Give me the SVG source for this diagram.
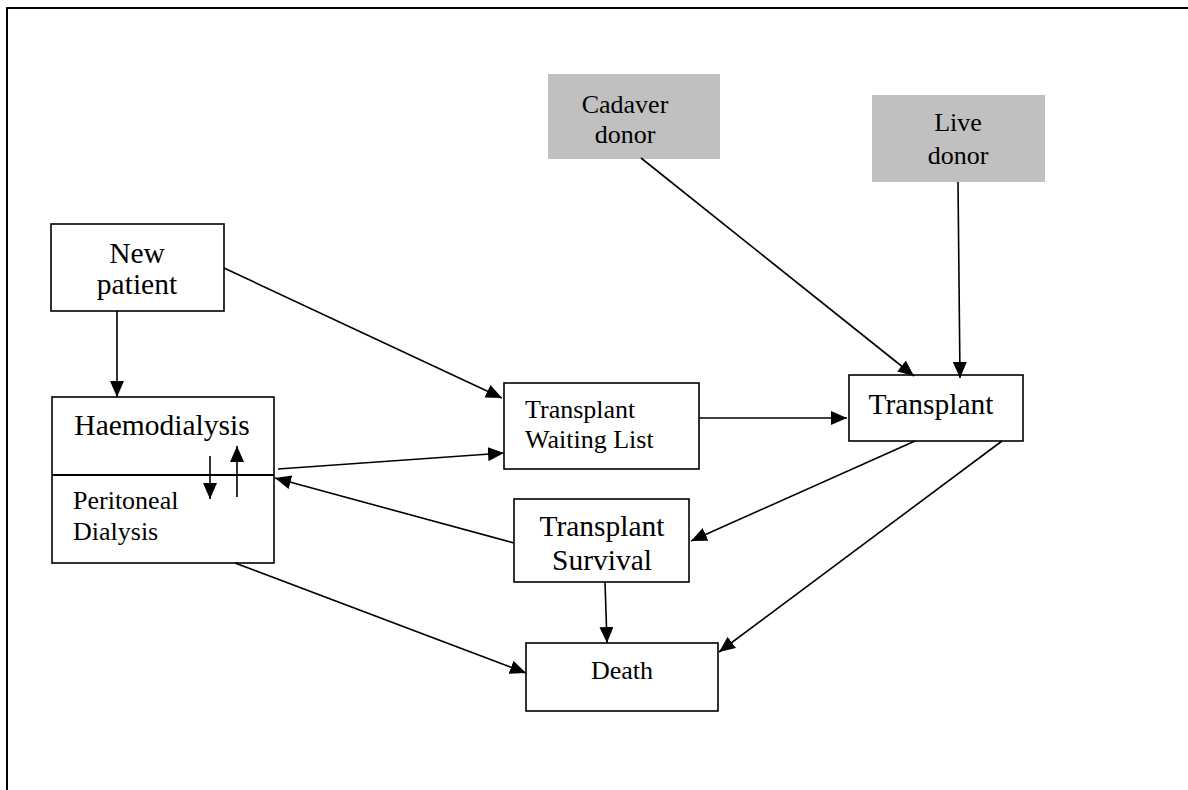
<svg xmlns="http://www.w3.org/2000/svg" width="1188" height="790" viewBox="0 0 1188 790">
<style>
.box{fill:#fff;stroke:#000;stroke-width:1.6}
.grey{fill:#c0c0c0;stroke:none}
.t{font-family:"Liberation Serif","Times New Roman",serif;fill:#000}
.big{font-size:29.5px}
.sm{font-size:26px}
.c{text-anchor:middle}
.ln{stroke:#000;stroke-width:1.6;fill:none;marker-end:url(#ah)}
</style>
<defs>
<marker id="ah" markerUnits="userSpaceOnUse" markerWidth="17" markerHeight="14" refX="16" refY="7" orient="auto">
<path d="M0,0 L16,7 L0,14 z" fill="#000"/>
</marker>
</defs>
<rect width="1188" height="790" fill="#fff"/>
<g id="frame">
<line x1="6" y1="8" x2="1188" y2="8" stroke="#000" stroke-width="2.2"/>
<line x1="7" y1="7" x2="7" y2="790" stroke="#000" stroke-width="2"/>
</g>
<g id="cadaver">
<rect class="grey" x="548" y="74" width="172" height="85"/>
<text class="t sm c" x="625" y="113">Cadaver</text>
<text class="t sm c" x="625" y="143">donor</text>
</g>
<g id="live">
<rect class="grey" x="872" y="95" width="173" height="87"/>
<text class="t sm c" x="958" y="131">Live</text>
<text class="t sm c" x="958" y="164">donor</text>
</g>
<g id="newpatient">
<rect class="box" x="51" y="224" width="173" height="87"/>
<text class="t big c" x="137" y="263">New</text>
<text class="t big c" x="137" y="294">patient</text>
</g>
<g id="dialysis">
<rect class="box" x="52" y="397" width="222" height="166"/>
<line x1="52" y1="475" x2="274" y2="475" stroke="#000" stroke-width="2"/>
<text class="t big c" x="162" y="435">Haemodialysis</text>
<text class="t sm" x="73" y="509">Peritoneal</text>
<text class="t sm" x="73" y="540">Dialysis</text>
<line class="ln" x1="210" y1="456" x2="210" y2="499"/>
<line class="ln" x1="237" y1="497" x2="237" y2="446"/>
</g>
<g id="waiting">
<rect class="box" x="504" y="383" width="195" height="86"/>
<text class="t sm" x="525" y="418">Transplant</text>
<text class="t sm" x="525" y="448">Waiting List</text>
</g>
<g id="transplant">
<rect class="box" x="849" y="375" width="174" height="66"/>
<text class="t big c" x="931" y="414">Transplant</text>
</g>
<g id="survival">
<rect class="box" x="514" y="499" width="175" height="83"/>
<text class="t big c" x="602" y="536">Transplant</text>
<text class="t big c" x="602" y="570">Survival</text>
</g>
<g id="death">
<rect class="box" x="526" y="643" width="192" height="68"/>
<text class="t sm c" x="622" y="679">Death</text>
</g>
<g id="connectors">
<line class="ln" x1="117" y1="311" x2="117" y2="397"/>
<line class="ln" x1="224" y1="268" x2="502" y2="398"/>
<line class="ln" x1="278" y1="469" x2="504" y2="453"/>
<line class="ln" x1="514" y1="543" x2="275" y2="478"/>
<line class="ln" x1="699" y1="418" x2="847" y2="418"/>
<line class="ln" x1="641" y1="158" x2="914" y2="376"/>
<line class="ln" x1="958" y1="182" x2="960" y2="378"/>
<line class="ln" x1="915" y1="441" x2="691" y2="541"/>
<line class="ln" x1="1002" y1="441" x2="719" y2="652"/>
<line class="ln" x1="605" y1="582" x2="607" y2="643"/>
<line class="ln" x1="235" y1="563" x2="526" y2="673"/>
</g>
</svg>
